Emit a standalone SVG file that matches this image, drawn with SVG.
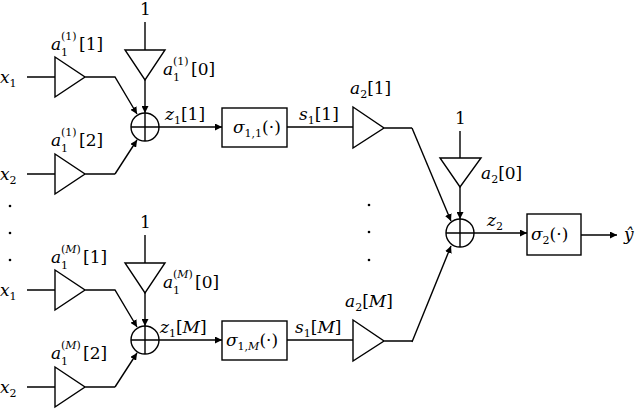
<svg xmlns="http://www.w3.org/2000/svg" width="640" height="412" viewBox="0 0 640 412">
<style>
.l{fill:none;stroke:#000;stroke-width:1.4}
.t{font-family:"DejaVu Serif","Liberation Serif",serif;font-style:italic;font-size:17px}
.n{font-style:normal}
.s{font-size:11px}
</style>
<defs>
<marker id="a" viewBox="0 0 10 10" refX="10" refY="5" markerWidth="7" markerHeight="7" markerUnits="userSpaceOnUse" orient="auto"><path d="M0,0L10,5L0,10z"/></marker>
<g id="blk">
<path class="l" d="M27,77H55M55,57L85,77L55,97zM85,77H115L137,114" marker-end="url(#a)"/>
<path class="l" d="M27,174H55M55,154L85,174L55,194zM85,174H115"/>
<path class="l" d="M115,174L137,140" marker-end="url(#a)"/>
<path class="l" d="M145,22V50M145,80V113" marker-end="url(#a)"/>
<path class="l" d="M125,50H165L145,80z"/>
<circle class="l" cx="145" cy="127" r="14"/>
<path class="l" d="M131,127H159M145,113V141"/>
<path class="l" d="M159,127H222" marker-end="url(#a)"/>
<path class="l" d="M287,127H353M353,107L384,128L353,148zM384,128H412"/>
<rect class="l" x="222" y="108" width="65" height="39"/>
<text class="t" x="0" y="83">x<tspan class="s n" dy="4">1</tspan></text>
<text class="t" x="0" y="180">x<tspan class="s n" dy="4">2</tspan></text>
<text class="t n" x="140" y="15">1</text>
</g>
</defs>
<g id="connectors">
<path class="l" d="M412,128L451,221" marker-end="url(#a)"/>
<path class="l" d="M412,342L451,246" marker-end="url(#a)"/>
<path class="l" d="M460,131V158M460,187V219" marker-end="url(#a)"/>
<path class="l" d="M474,233H527" marker-end="url(#a)"/>
<path class="l" d="M581,235H617" marker-end="url(#a)"/>
</g>
<g id="branch1"><use href="#blk"/>
<text class="t" x="233" y="133">σ<tspan class="s n" dy="4">1,1</tspan><tspan class="n" dy="-4">(·)</tspan></text>
<g class="t"><text x="51" y="50">a</text><text class="s n" x="61" y="40">(1)</text><text class="s n" x="61" y="56">1</text><text class="n" x="79" y="50">[1]</text></g>
<g class="t"><text x="51" y="146">a</text><text class="s n" x="61" y="136">(1)</text><text class="s n" x="61" y="152">1</text><text class="n" x="79" y="146">[2]</text></g>
<g class="t"><text x="163" y="75">a</text><text class="s n" x="173" y="65">(1)</text><text class="s n" x="173" y="81">1</text><text class="n" x="191" y="75">[0]</text></g>
<text class="t" x="165" y="120">z<tspan class="s n" dy="4">1</tspan><tspan class="n" dy="-4">[1]</tspan></text>
<text class="t" x="299" y="120">s<tspan class="s n" dy="4">1</tspan><tspan class="n" dy="-4">[1]</tspan></text>
<text class="t" x="350" y="94">a<tspan class="s n" dy="4">2</tspan><tspan class="n" dy="-4">[1]</tspan></text>
</g>
<g id="branchM" transform="translate(0,213)"><use href="#blk"/>
<text class="t" x="226" y="133">σ<tspan class="s" dy="4"><tspan class="n">1,</tspan>M</tspan><tspan class="n" dy="-4">(·)</tspan></text>
<g class="t"><text x="51" y="50">a</text><text class="s" x="61" y="40"><tspan class="n">(</tspan>M<tspan class="n">)</tspan></text><text class="s n" x="61" y="56">1</text><text class="n" x="83" y="50">[1]</text></g>
<g class="t"><text x="51" y="146">a</text><text class="s" x="61" y="136"><tspan class="n">(</tspan>M<tspan class="n">)</tspan></text><text class="s n" x="61" y="152">1</text><text class="n" x="83" y="146">[2]</text></g>
<g class="t"><text x="163" y="75">a</text><text class="s" x="173" y="65"><tspan class="n">(</tspan>M<tspan class="n">)</tspan></text><text class="s n" x="173" y="81">1</text><text class="n" x="195" y="75">[0]</text></g>
<text class="t" x="160" y="120">z<tspan class="s n" dy="4">1</tspan><tspan class="n" dy="-4">[</tspan>M<tspan class="n">]</tspan></text>
<text class="t" x="295" y="120">s<tspan class="s n" dy="4">1</tspan><tspan class="n" dy="-4">[</tspan>M<tspan class="n">]</tspan></text>
<text class="t" x="345" y="94">a<tspan class="s n" dy="4">2</tspan><tspan class="n" dy="-4">[</tspan>M<tspan class="n">]</tspan></text>
</g>
<g id="dots">
<circle cx="10" cy="206" r="1.3"/><circle cx="10" cy="233" r="1.3"/><circle cx="10" cy="260" r="1.3"/>
<circle cx="369" cy="205" r="1.3"/><circle cx="369" cy="232" r="1.3"/><circle cx="369" cy="260" r="1.3"/>
</g>
<g id="out">
<path class="l" d="M440,158H481L460,187z"/>
<circle class="l" cx="460" cy="233" r="14"/>
<path class="l" d="M446,233H474M460,219V247"/>
<rect class="l" x="527" y="214" width="54" height="41"/>
<text class="t" x="531" y="240">σ<tspan class="s n" dy="4">2</tspan><tspan class="n" dy="-4">(·)</tspan></text>
<text class="t n" x="455" y="124">1</text>
<text class="t" x="481" y="179">a<tspan class="s n" dy="4">2</tspan><tspan class="n" dy="-4">[0]</tspan></text>
<text class="t" x="487" y="226">z<tspan class="s n" dy="4">2</tspan></text>
<text class="t" x="624" y="240">ŷ</text>
</g>
</svg>
